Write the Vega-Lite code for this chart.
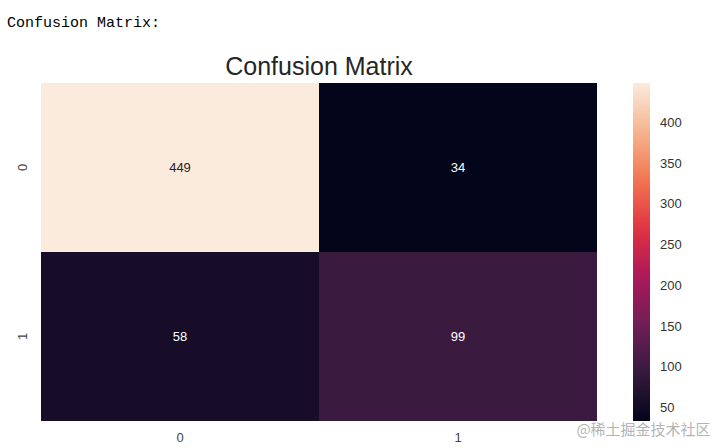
{
  "$schema": "https://vega.github.io/schema/vega-lite/v6.json",
  "padding": {"left": 7, "top": 15, "right": 5, "bottom": 0},
  "background": "white",
  "title": {"text": "Confusion Matrix:", "anchor": "start", "font": "Liberation Mono", "fontSize": 15, "fontWeight": "normal", "color": "#000000", "dx": -9, "offset": 25},
  "config": {"view": {"stroke": null}, "font": "Liberation Sans"},
  "vconcat": [
    {
      "width": 556,
      "height": 338,
      "title": {"text": "Confusion Matrix", "fontSize": 25, "fontWeight": "normal", "font": "Liberation Sans", "color": "#262626", "offset": 3},
      "data": {"values": [
        {"actual": 0, "predicted": 0, "count": 449},
        {"actual": 0, "predicted": 1, "count": 34},
        {"actual": 1, "predicted": 0, "count": 58},
        {"actual": 1, "predicted": 1, "count": 99}
      ]},
      "encoding": {
        "x": {"field": "predicted", "type": "ordinal", "scale": {"paddingInner": 0, "paddingOuter": 0},
          "axis": {"domain": false, "ticks": false, "labelAngle": 0, "labelFontSize": 13, "labelColor": "#444444", "labelPadding": 10,
            "title": "@稀土掘金技术社区", "titleX": 602, "titleY": 8, "titleAlign": "center", "titleBaseline": "middle", "titleFont": "Noto Sans CJK SC", "titleFontSize": 15, "titleFontWeight": "normal", "titleColor": "#b4b4b4"}},
        "y": {"field": "actual", "type": "ordinal", "scale": {"paddingInner": 0, "paddingOuter": 0},
          "axis": {"domain": false, "ticks": false, "labelAngle": -90, "labelFontSize": 13, "labelColor": "#444444", "labelPadding": 12, "title": null}}
      },
      "layer": [
        {
          "mark": {"type": "rect"},
          "encoding": {
            "color": {"field": "count", "type": "quantitative",
              "scale": {"domain": [34, 93.29, 152.57, 211.86, 271.14, 330.43, 389.71, 449],
                "range": ["#03051a", "#35193e", "#701f57", "#ad1759", "#e13342", "#f37651", "#f6b48f", "#faebdd"],
                "interpolate": "rgb"},
              "legend": {"title": null, "orient": "none", "legendX": 592, "legendY": 0, "direction": "vertical", "gradientLength": 338, "gradientThickness": 17,
                "values": [50, 100, 150, 200, 250, 300, 350, 400], "labelFontSize": 13, "labelColor": "#333333", "labelOffset": 10, "gradientStrokeWidth": 0}}
          }
        },
        {
          "mark": {"type": "text", "fontSize": 13},
          "encoding": {
            "text": {"field": "count", "type": "quantitative"},
            "color": {"condition": {"test": "datum.count > 250", "value": "#262626"}, "value": "#ffffff"}
          }
        }
      ]
    }
  ]
}
